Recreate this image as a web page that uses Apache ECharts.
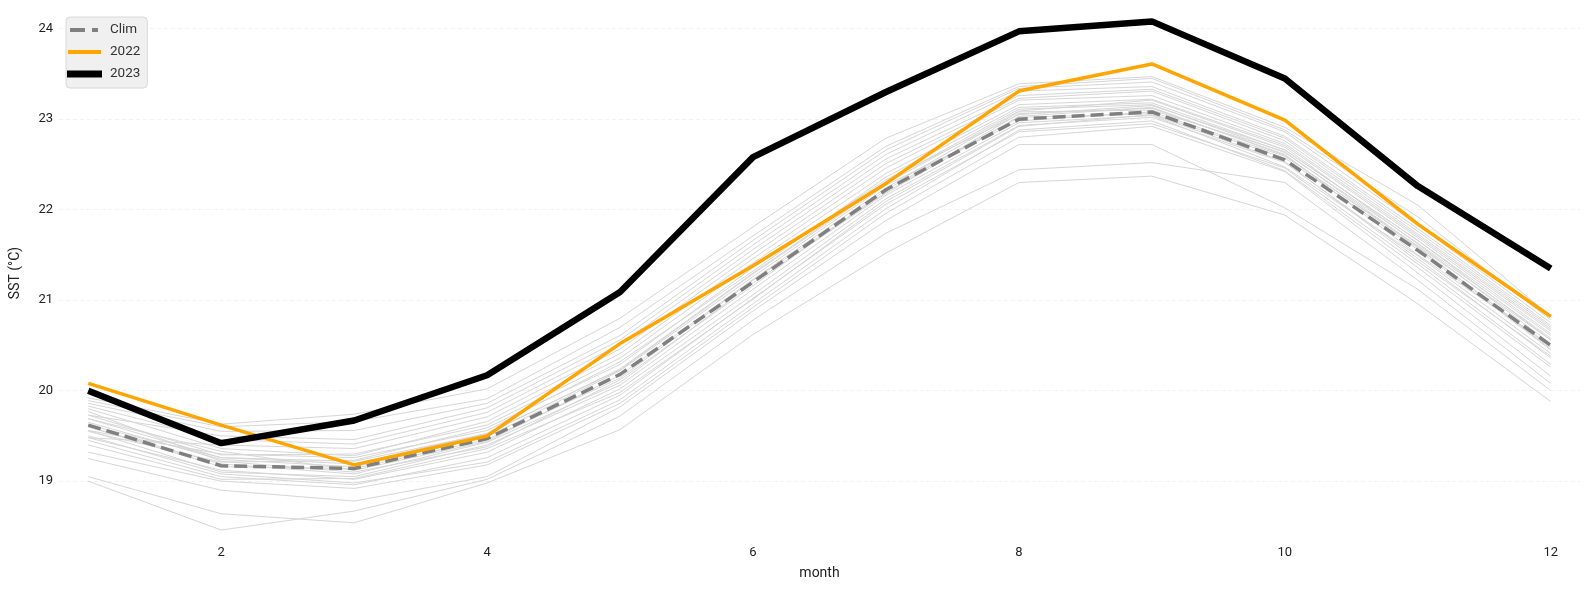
<!DOCTYPE html>
<html>
<head>
<meta charset="utf-8">
<script src="https://cdn.jsdelivr.net/npm/echarts@6/dist/echarts.min.js"></script>
<style>
html,body{margin:0;padding:0;background:#fff;}
#chart{width:1590px;height:590px;}
</style>
</head>
<body>
<div id="chart"></div>
<script>
const months = [1,2,3,4,5,6,7,8,9,10,11,12];
const xTickLabels = [2,4,6,8,10,12];

const clim = [19.62,19.17,19.14,19.47,20.18,21.20,22.22,23.00,23.08,22.55,21.55,20.50];
const y2022 = [20.08,19.62,19.18,19.50,20.52,21.38,22.29,23.31,23.61,22.99,21.84,20.82];
const y2023 = [20.00,19.42,19.67,20.17,21.09,22.58,23.30,23.97,24.08,23.45,22.26,21.35];

const hist01 = [19.05,18.64,18.54,18.98,19.57,20.62,21.52,22.30,22.37,21.94,20.96,19.88];
const hist02 = [19.00,18.46,18.67,19.02,19.72,20.78,21.74,22.44,22.52,22.30,21.22,20.08];
const hist03 = [19.25,18.90,18.78,19.05,19.82,20.88,21.88,22.72,22.72,22.02,21.12,20.00];
const hist04 = [19.32,19.00,18.92,19.18,19.86,20.92,21.96,22.80,22.92,22.42,21.30,20.16];
const hist05 = [19.45,19.05,18.96,19.26,19.95,21.02,22.06,22.86,22.95,22.46,21.40,20.29];
const hist06 = [19.48,19.12,19.02,19.32,20.02,21.06,22.12,22.93,23.02,22.52,21.46,20.36];
const hist07 = [19.56,19.10,19.05,19.40,20.06,21.12,22.16,22.96,23.04,22.47,21.49,20.41];
const hist08 = [19.77,19.22,19.10,19.38,20.12,21.16,22.22,23.02,23.06,22.57,21.56,20.45];
const hist09 = [19.60,19.16,19.14,19.46,20.14,21.22,22.19,23.06,23.12,22.61,21.50,20.50];
const hist10 = [19.65,19.24,19.16,19.49,20.22,21.26,22.27,22.98,23.08,22.59,21.60,20.56];
const hist11 = [19.69,19.26,19.22,19.52,20.24,21.30,22.31,23.11,23.16,22.63,21.63,20.58];
const hist12 = [19.56,19.30,19.26,19.56,20.32,21.32,22.36,23.13,23.18,22.66,21.66,20.61];
const hist13 = [19.73,19.29,19.30,19.62,20.36,21.41,22.40,23.16,23.22,22.71,21.69,20.63];
const hist14 = [19.80,19.36,19.28,19.66,20.41,21.46,22.46,23.21,23.26,22.73,21.71,20.66];
const hist15 = [19.48,19.40,19.36,19.71,20.46,21.51,22.51,23.23,23.31,22.76,21.73,20.68];
const hist16 = [19.83,19.46,19.41,19.76,20.51,21.56,22.56,23.26,23.33,22.79,21.76,20.70];
const hist17 = [19.73,19.50,19.46,19.81,20.56,21.61,22.61,23.31,23.36,22.81,21.79,20.72];
const hist18 = [19.86,19.55,19.56,19.86,20.61,21.66,22.66,23.34,23.41,22.86,21.83,20.75];
const hist19 = [19.89,19.60,19.66,19.91,20.70,21.71,22.70,23.36,23.45,22.88,21.92,20.78];
const hist20 = [19.92,19.63,19.74,20.02,20.80,21.81,22.79,23.39,23.47,22.91,22.05,20.82];
const hist21 = [19.50,19.08,18.98,19.21,19.90,20.96,22.01,22.88,22.98,22.43,21.36,20.26];
const hist22 = [19.40,19.02,19.03,19.36,19.98,21.01,22.09,22.92,23.05,22.53,21.43,20.38];
const hist23 = [19.60,19.19,19.08,19.43,20.09,21.19,22.18,23.03,23.13,22.60,21.58,20.48];
const hist24 = [19.62,19.26,19.19,19.53,20.23,21.29,22.29,23.09,23.21,22.69,21.62,20.52];
const hist25 = [19.55,19.21,19.23,19.59,20.29,21.36,22.33,23.05,23.15,22.66,21.66,20.56];
const hist26 = [19.69,19.33,19.12,19.44,20.17,21.23,22.24,23.08,23.10,22.64,21.59,20.46];

const histSeries = [hist01,hist02,hist03,hist04,hist05,hist06,hist07,hist08,hist09,hist10,hist11,hist12,hist13,
  hist14,hist15,hist16,hist17,hist18,hist19,hist20,hist21,hist22,hist23,hist24,hist25,hist26];

function pairs(vals){ return months.map((m,i)=>[m, vals[i]]); }

const series = [];
histSeries.forEach((h, i) => {
  series.push({
    name: 'hist' + (i+1),
    type: 'line',
    data: pairs(h),
    symbol: 'none',
    silent: true,
    lineStyle: { color: '#d6d6d6', width: 1 },
    z: 1
  });
});
series.push({
  name: 'Clim', type: 'line', data: pairs(clim), symbol: 'none',
  lineStyle: { color: '#808080', width: 3.5, type: [13, 6] }, itemStyle: {color:'#808080'}, z: 3
});
series.push({
  name: '2022', type: 'line', data: pairs(y2022), symbol: 'none',
  lineStyle: { color: '#FFA500', width: 3.5 }, itemStyle: {color:'#FFA500'}, z: 4
});
series.push({
  name: '2023', type: 'line', data: pairs(y2023), symbol: 'none',
  lineStyle: { color: '#000000', width: 6.5 }, itemStyle: {color:'#000000'}, z: 5
});

// legend handle shapes (bounding box 35 x 10 kept by corner points)
const iconClim = 'path://M0,0 L0,0 M35,10 L35,10 M3,3 L18,3 L18,7 L3,7 Z M25,3 L31,3 L31,7 L25,7 Z';
const icon2022 = 'path://M0,0 L0,0 M35,10 L35,10 M1,3 L34,3 L34,7 L1,7 Z';
const icon2023 = 'path://M0,0 L0,0 M35,10 L35,10 M0,1.6 L35,1.6 L35,8.4 L0,8.4 Z';

const chart = echarts.init(document.getElementById('chart'), null, {renderer: 'canvas'});
chart.setOption({
  animation: false,
  backgroundColor: '#ffffff',
  textStyle: { fontFamily: 'Roboto' },
  grid: { left: 58, right: 10, top: 6, bottom: 50, containLabel: false },
  legend: {
    data: [
      { name: 'Clim', icon: iconClim },
      { name: '2022', icon: icon2022 },
      { name: '2023', icon: icon2023 }
    ],
    orient: 'vertical',
    left: 66, top: 17,
    itemWidth: 35, itemHeight: 10, itemGap: 8,
    padding: [6, 7, 7, 1],
    backgroundColor: '#f0f0f0',
    borderColor: '#d8d8d8', borderWidth: 1, borderRadius: 4,
    itemStyle: { borderWidth: 0 },
    textStyle: { fontFamily: 'Roboto', fontSize: 13.5, color: '#333', padding: [0,0,0,3] }
  },
  xAxis: {
    type: 'value',
    min: 0.78, max: 12.22,
    name: 'month', nameLocation: 'middle', nameGap: 26,
    nameTextStyle: { fontFamily: 'Roboto', fontSize: 14, color: '#222' },
    axisLine: { show: false }, axisTick: { show: false },
    splitLine: { show: false },
    axisLabel: { customValues: xTickLabels, fontFamily: 'Roboto', fontSize: 13, color: '#222', margin: 6 }
  },
  yAxis: {
    type: 'value',
    min: 18.35, max: 24.25,
    name: 'SST (°C)', nameLocation: 'middle', nameGap: 37,
    nameTextStyle: { fontFamily: 'Roboto', fontSize: 14, color: '#222' },
    axisLine: { show: false }, axisTick: { show: false },
    axisLabel: { showMinLabel: false, showMaxLabel: false, fontFamily: 'Roboto', fontSize: 13, color: '#222', margin: 6 },
    splitLine: { show: true, showMinLine: false, showMaxLine: false, lineStyle: { color: '#f2f2f2', type: [4, 3], width: 1 } }
  },
  series: series
});
</script>
</body>
</html>
